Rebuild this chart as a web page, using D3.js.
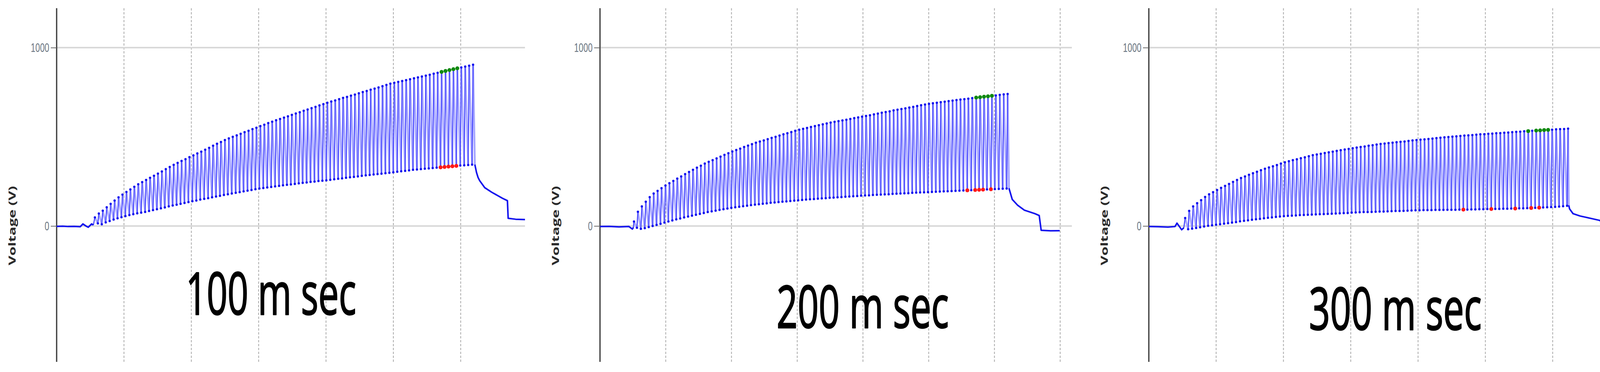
<!DOCTYPE html>
<html><head><meta charset="utf-8">
<script src="https://cdn.jsdelivr.net/npm/d3@7/dist/d3.min.js"></script>
<style>html,body{margin:0;padding:0;background:#fff;}svg{display:block}</style>
</head><body>
<svg id="chart" width="4177" height="953"></svg>
<script>
// ---------------- DATA ----------------
const panelTitles = ["100 m sec", "200 m sec", "300 m sec"];
const yAxisLabel = "Voltage (V)";
const yTickValues = [0, 1000];

// time unit = one vertical grid division
const p1PulseStart = 0.568, p1PulsePeriod = 0.0585;
const p1Peaks = [48,70,86,105,124,143,161,176,191,205,
220,234,246,258,270,282,294,306,319,331,
343,354,365,375,386,396,407,417,428,438,
450,461,471,482,491,500,508,517,526,534,
543,551,560,568,577,585,593,600,608,615,
623,631,638,646,653,661,668,676,683,691,
698,704,711,718,724,731,737,744,751,757,
764,770,777,784,791,798,803,808,813,818,
823,828,833,838,843,848,854,859,864,869,
874,879,884,889,894,899,904];
const p1Troughs = [15,10,20,28,36,43,49,55,61,66,
71,75,79,84,89,94,99,104,110,115,
119,124,129,134,139,143,148,152,156,161,
165,169,174,178,182,186,190,194,198,202,
206,210,213,216,219,222,225,228,231,233,
236,239,242,244,247,249,252,254,256,259,
262,265,267,270,273,275,278,281,284,286,
289,291,293,296,298,301,304,307,309,312,
315,317,319,321,323,325,327,329,331,333,
335,337,339,340,342,344];
const p1Lead = [[0,-2],[0.09,-1],[0.17,-3],[0.26,-2],[0.35,-4],[0.39,12],[0.435,0],[0.47,-7],[0.52,12],[0.545,5]];
const p1Tail = [[6.21,345],[6.235,300],[6.258,272],[6.282,254],[6.357,215],[6.462,189],[6.618,156],[6.694,142],[6.705,43],[6.816,38],[6.955,36]];
const p1Green = [88,89,90,91,92];
const p1Red = [87,88,89,90,91];

const p2PulseStart = 0.5169, p2PulsePeriod = 0.05983;
const p2Peaks = [25,80,110,136,162,182,197,212,227,240,
253,266,278,291,303,315,327,338,350,360,
369,379,389,399,408,418,426,434,443,451,
459,467,474,480,487,494,500,507,514,520,
527,534,540,545,550,555,560,565,570,575,
580,584,588,592,596,600,605,609,613,617,
621,626,630,635,639,643,648,652,656,660,
664,668,673,677,681,685,688,691,694,697,
700,703,706,709,711,714,717,720,722,725,
727,730,732,735,738,740];
const p2Troughs = [-10,-16,-12,-6,0,6,12,19,25,31,
37,42,48,53,58,63,68,73,78,82,
86,90,94,98,102,105,108,111,114,117,
120,122,125,127,130,132,134,136,138,140,
142,144,146,148,150,151,153,155,156,158,
159,161,162,164,165,167,168,170,171,172,
174,175,176,177,178,180,181,182,183,184,
186,187,188,189,190,191,192,193,194,195,
196,197,198,199,200,201,202,203,204,205,
206,207,208,209,210];
const p2Lead = [[0,-3],[0.14,-2],[0.29,-5],[0.44,-3],[0.493,-17],[0.508,-8]];
const p2Tail = [[6.221,212],[6.271,149],[6.354,116],[6.455,89],[6.616,69],[6.681,59],[6.711,-24],[6.853,-27],[6.993,-26]];
const p2Green = [87,88,89,90,91];
const p2Red = [84,86,87,88,90];

const p3PulseStart = 0.5398, p3PulsePeriod = 0.05926;
const p3Peaks = [45,85,110,128,145,163,178,190,202,214,
225,236,247,258,269,278,287,296,304,313,
321,328,335,342,350,357,363,369,374,380,
385,391,397,401,405,409,413,417,421,425,
429,432,436,440,443,446,450,453,457,460,
462,465,467,470,472,474,477,480,482,484,
486,488,490,493,495,497,499,501,503,505,
507,508,510,512,514,515,517,518,520,521,
523,524,526,528,529,531,532,534,535,536,
538,539,540,542,543,544,546];
const p3Troughs = [-18,-15,-11,-7,-3,1,4,7,10,13,
16,19,22,26,29,32,35,38,40,43,
46,48,51,53,55,57,58,59,61,62,
63,64,65,66,67,68,69,70,71,72,
73,75,76,77,78,78,79,80,81,81,
82,83,84,84,85,86,87,88,88,89,
89,89,90,90,90,91,91,91,92,92,
92,93,93,94,94,95,95,96,96,97,
97,98,98,99,99,100,101,102,103,104,
105,106,107,109,111,113];
const p3Lead = [[0,-3],[0.139,-4],[0.284,-6],[0.389,-3],[0.418,16],[0.488,-21],[0.52,-10]];
const p3Tail = [[6.239,116],[6.251,96],[6.303,69],[6.407,56],[6.564,43],[6.692,32],[6.744,23],[6.773,-21],[6.872,-25],[7.005,-24]];
const p3Green = [86,88,89,90,91];
const p3Red = [69,76,82,86,88];

// ---------------- LAYOUT ----------------
const panels = [
  {title: panelTitles[0], start: p1PulseStart, period: p1PulsePeriod, peaks: p1Peaks, troughs: p1Troughs, lead: p1Lead, tail: p1Tail, green: p1Green, red: p1Red,
   left: 145, right: 1344, xMax: 6.955, titleX: 476, titleY: 806, titleW: 436},
  {title: panelTitles[1], start: p2PulseStart, period: p2PulsePeriod, peaks: p2Peaks, troughs: p2Troughs, lead: p2Lead, tail: p2Tail, green: p2Green, red: p2Red,
   left: 1536, right: 2744, xMax: 7.178, titleX: 1988, titleY: 840, titleW: 441},
  {title: panelTitles[2], start: p3PulseStart, period: p3PulsePeriod, peaks: p3Peaks, troughs: p3Troughs, lead: p3Lead, tail: p3Tail, green: p3Green, red: p3Red,
   left: 2941, right: 4157, xMax: 7.057, titleX: 3351, titleY: 845, titleW: 442}
];
const TOP = 21, BOTTOM = 927;
const FALL = 0.75; // fraction of a period the discharge takes
const svg = d3.select("#chart");

panels.forEach(P => {
  const g = svg.append("g");
  const x = d3.scaleLinear().domain([0, P.xMax]).range([P.left, P.right]);
  const y = d3.scaleLinear().domain([0, 1000]).range([579, 122]);

  // vertical dashed grid
  const gridT = x.ticks(8).filter(t => t > 0 && t <= P.xMax && Number.isInteger(t));
  g.selectAll("line.vg").data(gridT).join("line")
    .attr("x1", d => x(d)).attr("x2", d => x(d)).attr("y1", TOP).attr("y2", BOTTOM)
    .attr("stroke", "#ababab").attr("stroke-width", 2).attr("stroke-dasharray", "6,4");
  // horizontal grid
  g.selectAll("line.hg").data(yTickValues).join("line")
    .attr("x1", P.left).attr("x2", P.right).attr("y1", d => y(d)).attr("y2", d => y(d))
    .attr("stroke", "#d9d9d9").attr("stroke-width", 4);

  // y axis
  const ax = g.append("g").attr("transform", `translate(${P.left},0)`)
    .call(d3.axisLeft(y).tickValues(yTickValues).tickFormat(d3.format("d")).tickSize(15).tickSizeOuter(0).tickPadding(4));
  ax.select(".domain").attr("d", `M0,${TOP}V${BOTTOM}`).attr("stroke", "#3a3a3a").attr("stroke-width", 3.2);
  ax.selectAll(".tick line").attr("stroke", "#666").attr("stroke-width", 2);
  ax.selectAll(".tick text")
    .attr("font-family", "'Liberation Sans', Arial, sans-serif").attr("font-size", 32)
    .attr("fill", "#6b7682")
    .attr("textLength", d => String(d).length * 11.8).attr("lengthAdjust", "spacingAndGlyphs");

  // y label
  g.append("text")
    .attr("transform", `translate(${P.left - 115},578) scale(0.64,1) rotate(-90)`)
    .attr("text-anchor", "middle").attr("dominant-baseline", "central")
    .attr("font-family", "'Open Sans', 'DejaVu Sans', sans-serif").attr("font-weight", "bold")
    .attr("font-size", 38).attr("fill", "#2a2a2a").text(yAxisLabel);

  // waveform: each pulse = sharp charge (up) then discharge (down)
  const tp = i => P.start + i * P.period;
  const line = d3.line().x(d => x(d[0])).y(d => y(d[1]));
  const downs = [], ups = [];
  P.peaks.forEach((pk, i) => {
    if (i < P.troughs.length) {
      downs.push([[tp(i), pk], [tp(i) + FALL * P.period, P.troughs[i]]]);
      ups.push([[tp(i) + FALL * P.period, P.troughs[i]], [tp(i + 1), P.peaks[i + 1]]]);
    }
  });
  const lastLead = P.lead[P.lead.length - 1];
  ups.unshift([lastLead, [tp(0), P.peaks[0]]]);
  downs.push([[tp(P.peaks.length - 1), P.peaks[P.peaks.length - 1]], P.tail[0]]);

  g.append("path").attr("d", downs.map(s => line(s)).join(""))
    .attr("fill", "none").attr("stroke", "#a9a9ff").attr("stroke-width", 5);
  g.append("path").attr("d", ups.map(s => line(s)).join(""))
    .attr("fill", "none").attr("stroke", "#5050ff").attr("stroke-width", 3);

  g.append("path").attr("d", line(P.lead)).attr("fill", "none").attr("stroke", "#1414ee").attr("stroke-width", 4).attr("stroke-linejoin", "round");
  g.append("path").attr("d", line(P.tail)).attr("fill", "none").attr("stroke", "#1414ee").attr("stroke-width", 4).attr("stroke-linejoin", "round");

  const pkPts = P.peaks.map((v, i) => [tp(i), v]);
  const trPts = P.troughs.map((v, i) => [tp(i) + FALL * P.period, v]);
  g.selectAll("circle.pk").data(pkPts.concat(trPts)).join("circle")
    .attr("cx", d => x(d[0])).attr("cy", d => y(d[1])).attr("r", 3).attr("fill", "#1010ee");

  // markers
  g.selectAll("circle.gr").data(P.green).join("circle")
    .attr("cx", i => x(tp(i))).attr("cy", i => y(P.peaks[i])).attr("r", 5).attr("fill", "#108a10");
  g.selectAll("circle.rd").data(P.red).join("circle")
    .attr("cx", i => x(tp(i) + FALL * P.period)).attr("cy", i => y(P.troughs[i])).attr("r", 5).attr("fill", "#ff1a1a");

  // title
  g.append("text").attr("x", P.titleX).attr("y", P.titleY)
    .attr("font-family", "'Open Sans', 'Noto Sans', sans-serif").attr("font-weight", 400)
    .attr("font-size", 150).attr("fill", "#000").attr("stroke", "#000").attr("stroke-width", 3)
    .attr("stroke-linejoin", "round")
    .attr("textLength", P.titleW).attr("lengthAdjust", "spacingAndGlyphs").text(P.title);
});
</script>
</body></html>
